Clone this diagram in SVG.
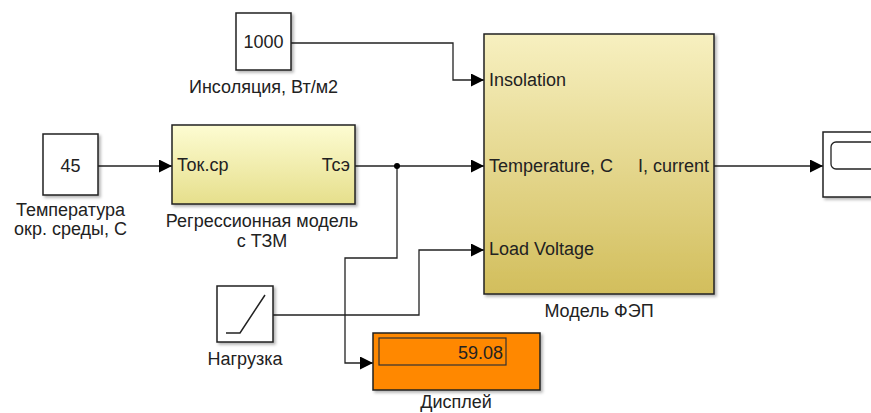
<svg xmlns="http://www.w3.org/2000/svg" width="871" height="413" viewBox="0 0 871 413">
<defs>
<linearGradient id="gFEP" x1="0" y1="0" x2="0" y2="1">
<stop offset="0" stop-color="#f7f0c0"/>
<stop offset="1" stop-color="#d2be5c"/>
</linearGradient>
<linearGradient id="gReg" x1="0" y1="0" x2="0" y2="1">
<stop offset="0" stop-color="#fdfcd2"/>
<stop offset="1" stop-color="#e6df8c"/>
</linearGradient>
<marker id="arr" markerWidth="13" markerHeight="13" refX="13" refY="6.5" orient="auto" markerUnits="userSpaceOnUse">
<path d="M0,0 L13,6.5 L0,13 Z" fill="#000"/>
</marker>
<filter id="sh" x="-10%" y="-10%" width="130%" height="130%">
<feDropShadow dx="2" dy="2" stdDeviation="1.5" flood-color="#000" flood-opacity="0.3"/>
</filter>
</defs>
<style>
.blk{stroke:#222;stroke-width:1.5;filter:url(#sh)}
.t{font-family:"Liberation Sans",Arial,sans-serif;font-size:18px;fill:#222}
.c{text-anchor:middle}
.w{fill:none;stroke:#222;stroke-width:1.3}
</style>
<g id="connectors">
<polyline class="w" points="291,43 453,43 453,80 484,80" marker-end="url(#arr)"/>
<polyline class="w" points="98,166 172,166" marker-end="url(#arr)"/>
<polyline class="w" points="355,166 484,166" marker-end="url(#arr)"/>
<polyline class="w" points="397,166 397,258 345,258 345,363 373,363" marker-end="url(#arr)"/>
<polyline class="w" points="273,315 419,315 419,250 484,250" marker-end="url(#arr)"/>
<polyline class="w" points="714,166 823,166" marker-end="url(#arr)"/>
<circle cx="397" cy="166" r="3" fill="#000"/>
</g>
<g id="insolation">
<rect class="blk" x="236" y="13" width="55" height="57" fill="#fff"/>
<text class="t c" x="263.5" y="48">1000</text>
<text class="t c" x="263.5" y="93">Инсоляция, Вт/м2</text>
</g>
<g id="temperature">
<rect class="blk" x="43" y="134" width="55" height="61" fill="#fff"/>
<text class="t c" x="70.5" y="172">45</text>
<text class="t c" x="70.5" y="216">Температура</text>
<text class="t c" x="70.5" y="235">окр. среды, С</text>
</g>
<g id="regression">
<rect class="blk" x="172" y="125" width="183" height="79" fill="url(#gReg)"/>
<text class="t" x="177" y="171">Ток.ср</text>
<text class="t" x="350" y="171" text-anchor="end">Тсэ</text>
<text class="t c" x="262" y="227">Регрессионная модель</text>
<text class="t c" x="262" y="247">с ТЗМ</text>
</g>
<g id="fep">
<rect class="blk" x="484" y="34" width="230" height="260" fill="url(#gFEP)"/>
<text class="t" x="489" y="86">Insolation</text>
<text class="t" x="489" y="172">Temperature, C</text>
<text class="t" x="709" y="172" text-anchor="end">I, current</text>
<text class="t" x="489" y="255">Load Voltage</text>
<text class="t c" x="599" y="317">Модель ФЭП</text>
</g>
<g id="scope">
<rect class="blk" x="823" y="132" width="60" height="65" fill="#fff"/>
<rect x="831" y="142" width="50" height="27" rx="5" fill="#fff" stroke="#222" stroke-width="1.3"/>
</g>
<g id="ramp">
<rect class="blk" x="217" y="286" width="56" height="56" fill="#fff"/>
<polyline points="226,333 240,333 265,295" fill="none" stroke="#222" stroke-width="1.5"/>
<text class="t c" x="245" y="365">Нагрузка</text>
</g>
<g id="display">
<rect class="blk" x="373" y="333" width="167" height="57" fill="#ff8800"/>
<rect x="379" y="338" width="127" height="27" fill="none" stroke="#333" stroke-width="1.2"/>
<text class="t" x="503" y="359" text-anchor="end" font-size="19px">59.08</text>
<text class="t c" x="456" y="408">Дисплей</text>
</g>
</svg>
